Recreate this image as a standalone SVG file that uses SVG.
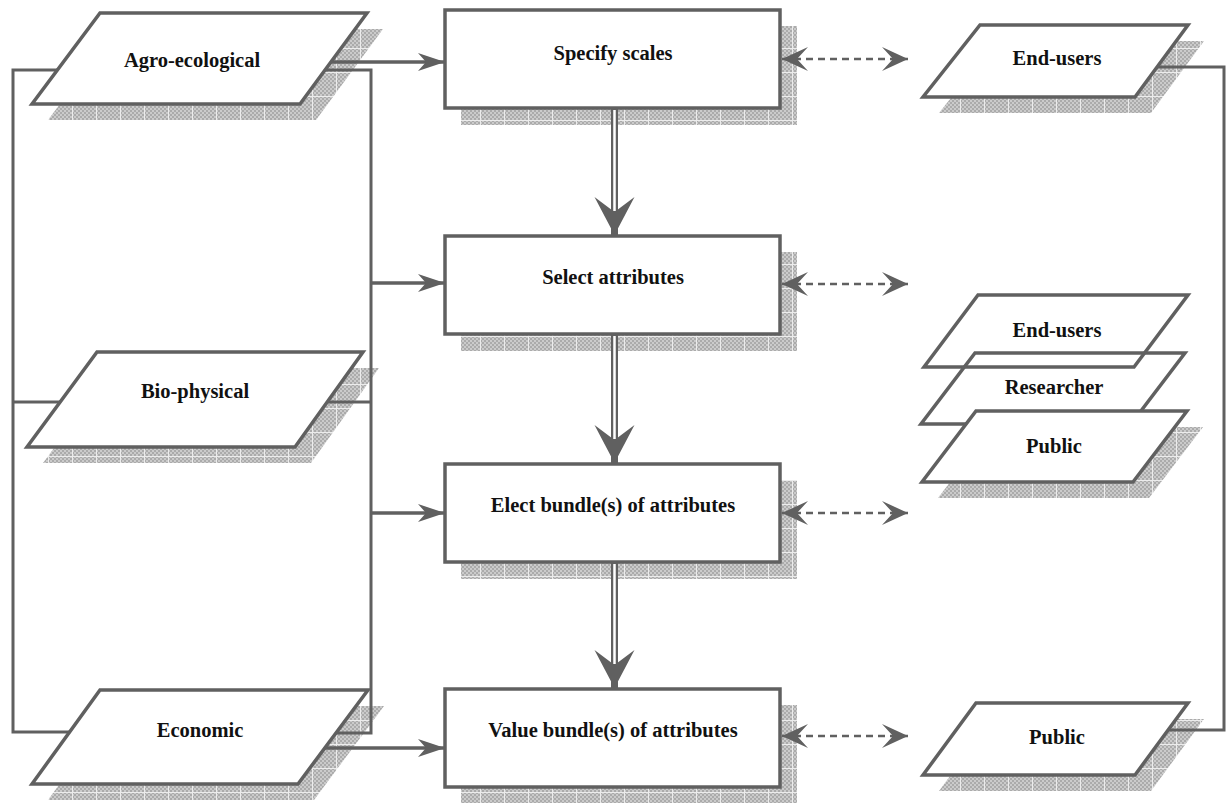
<svg xmlns="http://www.w3.org/2000/svg" width="1227" height="803" viewBox="0 0 1227 803">
<style>
.node{fill:#fff;stroke:#606060;stroke-width:3.5;stroke-linejoin:miter}
.open{fill:none;stroke:#606060;stroke-width:3.5}
.sh{fill:url(#grid);stroke:none}
.lbl{font-family:"Liberation Serif","Times New Roman",serif;font-weight:bold;font-size:20.5px;fill:#111;text-anchor:middle}
.ln{fill:none;stroke:#606060;stroke-width:3}
.ar{fill:none;stroke:#606060;stroke-width:3.5;marker-end:url(#ah)}
.dash{fill:none;stroke:#606060;stroke-width:2.6;stroke-dasharray:7 5;marker-start:url(#dh);marker-end:url(#dh)}
</style>
<defs>
<pattern id="chk" width="4" height="4" patternUnits="userSpaceOnUse">
<rect width="4" height="4" fill="#cbcbcb"/>
<rect width="2" height="2" fill="#ababab"/>
<rect x="2" y="2" width="2" height="2" fill="#ababab"/>
</pattern>
<pattern id="grid" width="24" height="24" patternUnits="userSpaceOnUse">
<rect width="24" height="24" fill="url(#chk)"/>
<path d="M0,0.5H24M0.5,0V24" stroke="#ececec" stroke-width="1"/>
</pattern>
<marker id="ah" markerUnits="userSpaceOnUse" markerWidth="30" markerHeight="20" refX="27" refY="9" orient="auto">
<path d="M0,0 L27,9 L0,18 L8,9 Z" fill="#606060"/>
</marker>
<marker id="dh" markerUnits="userSpaceOnUse" markerWidth="28" markerHeight="26" refX="26" refY="12" orient="auto-start-reverse">
<path d="M0,0 L26,12 L0,24 L11,12 Z" fill="#606060"/>
</marker>
<marker id="big" markerUnits="userSpaceOnUse" markerWidth="40" markerHeight="42" refX="38" refY="20" orient="auto">
<path d="M0,0 L38,20 L0,40 L15,20 Z" fill="#606060"/>
</marker>
</defs>
<rect width="1227" height="803" fill="#fff"/>

<g id="agro">
<polygon class="sh" points="116,29 383,29 316,120 48,120"/>
<polygon class="node" points="100,13 367,13 300,104 32,104"/>
<text class="lbl" x="192" y="67">Agro-ecological</text>
</g>
<g id="bio">
<polygon class="sh" points="113,368 379,368 311,463 43,463"/>
<polygon class="node" points="97,352 363,352 295,447 27,447"/>
<text class="lbl" x="195" y="398">Bio-physical</text>
</g>
<g id="econ">
<polygon class="sh" points="116,706 384,706 314,800 48,800"/>
<polygon class="node" points="100,690 368,690 298,784 32,784"/>
<text class="lbl" x="200" y="737">Economic</text>
</g>

<g id="specify">
<rect class="sh" x="461" y="26" width="336" height="99"/>
<rect class="node" x="445" y="10" width="335" height="98"/>
<text class="lbl" x="613" y="60">Specify scales</text>
</g>
<g id="select">
<rect class="sh" x="461" y="252" width="336" height="99"/>
<rect class="node" x="445" y="236" width="335" height="98"/>
<text class="lbl" x="613" y="284">Select attributes</text>
</g>
<g id="elect">
<rect class="sh" x="461" y="480" width="336" height="99"/>
<rect class="node" x="445" y="464" width="335" height="98"/>
<text class="lbl" x="613" y="512">Elect bundle(s) of attributes</text>
</g>
<g id="value">
<rect class="sh" x="461" y="705" width="336" height="99"/>
<rect class="node" x="445" y="689" width="335" height="98"/>
<text class="lbl" x="613" y="737">Value bundle(s) of attributes</text>
</g>

<g id="endusers-top">
<polygon class="sh" points="996,41 1204,41 1151,113 939,113"/>
<polygon class="node" points="980,25 1188,25 1135,97 923,97"/>
<text class="lbl" x="1057" y="65">End-users</text>
</g>
<g id="stack-endusers">
<polygon class="open" points="978,295 1188,295 1134,367 924,367"/>
<text class="lbl" x="1057" y="337">End-users</text>
</g>
<g id="stack-researcher">
<polygon class="open" points="975,353 1185,353 1131,424 921,424"/>
<text class="lbl" x="1054" y="394">Researcher</text>
</g>
<g id="stack-public">
<polygon class="sh" points="992,427 1203,427 1149,498 938,498"/>
<polygon class="node" points="976,411 1187,411 1133,482 922,482"/>
<text class="lbl" x="1054" y="453">Public</text>
</g>
<g id="public-bottom">
<polygon class="sh" points="992,719 1204,719 1151,791 939,791"/>
<polygon class="node" points="976,703 1188,703 1135,775 923,775"/>
<text class="lbl" x="1057" y="744">Public</text>
</g>

<g id="connectors">
<polyline class="ln" points="57,70 13,70 13,732 70,732"/>
<line class="ln" x1="13" y1="402" x2="60" y2="402"/>
<polyline class="ln" points="325,70 371,70 371,733 336,733"/>
<line class="ln" x1="327" y1="402" x2="371" y2="402"/>
<line class="ar" x1="331" y1="62" x2="445" y2="62"/>
<line class="ar" x1="371" y1="283" x2="445" y2="283"/>
<line class="ar" x1="371" y1="513" x2="445" y2="513"/>
<line class="ar" x1="325" y1="748" x2="445" y2="748"/>
<line x1="614.5" y1="108" x2="614.5" y2="235" stroke="#606060" stroke-width="7" marker-end="url(#big)"/>
<line x1="614.5" y1="110" x2="614.5" y2="211" stroke="#fff" stroke-width="2.5"/>
<line x1="614.5" y1="334" x2="614.5" y2="463" stroke="#606060" stroke-width="7" marker-end="url(#big)"/>
<line x1="614.5" y1="336" x2="614.5" y2="439" stroke="#fff" stroke-width="2.5"/>
<line x1="614.5" y1="562" x2="614.5" y2="688" stroke="#606060" stroke-width="7" marker-end="url(#big)"/>
<line x1="614.5" y1="564" x2="614.5" y2="664" stroke="#fff" stroke-width="2.5"/>
<line class="dash" x1="782" y1="59" x2="908" y2="59"/>
<line class="dash" x1="782" y1="284" x2="908" y2="284"/>
<line class="dash" x1="782" y1="513" x2="908" y2="513"/>
<line class="dash" x1="782" y1="736" x2="908" y2="736"/>
<polyline class="ln" points="1157,67 1224,67 1224,730 1168,730"/>
</g>
</svg>
